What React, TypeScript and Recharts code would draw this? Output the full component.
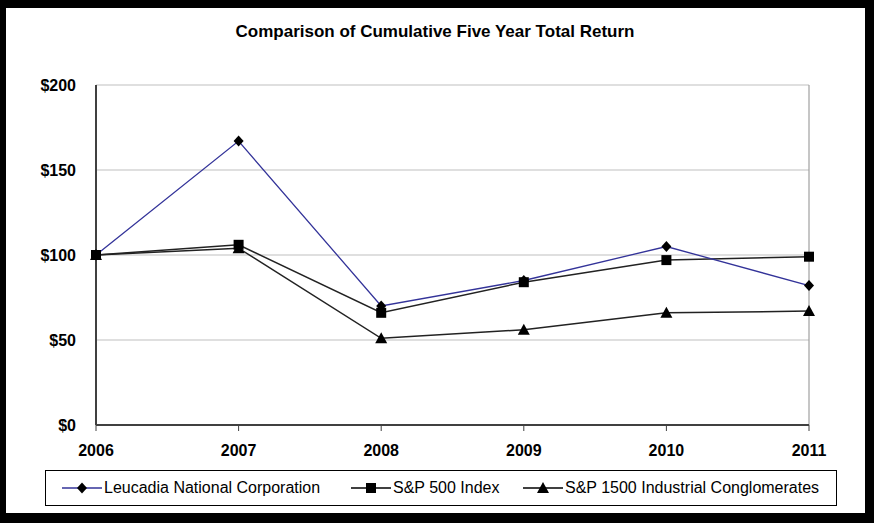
import React from 'react'
import { LineChart, Line, XAxis, YAxis, CartesianGrid, ReferenceLine } from 'recharts'

const years = ['2006', '2007', '2008', '2009', '2010', '2011']
const leucadia = [100, 167, 70, 85, 105, 82]
const sp500 = [100, 106, 66, 84, 97, 99]
const sp1500 = [100, 104, 51, 56, 66, 67]
const yTicks = [0, 50, 100, 150, 200]

const seriesNames = ['Leucadia National Corporation', 'S&P 500 Index', 'S&P 1500 Industrial Conglomerates']

const data = years.map((y, i) => ({
  year: y,
  leucadia: leucadia[i],
  sp500: sp500[i],
  sp1500: sp1500[i]
}))

const FONT = '"Liberation Sans", Arial, sans-serif'

type Shape = 'diamond' | 'square' | 'triangle'

function Marker({ cx, cy, shape }: { cx: number; cy: number; shape: Shape }) {
  if (shape === 'diamond') {
    return <polygon points={`${cx},${cy - 5.5} ${cx + 5},${cy} ${cx},${cy + 5.5} ${cx - 5},${cy}`} fill="#000" />
  }
  if (shape === 'square') {
    return <rect x={cx - 5} y={cy - 5} width={10} height={10} fill="#000" />
  }
  return <polygon points={`${cx},${cy - 6} ${cx + 6},${cy + 5} ${cx - 6},${cy + 5}`} fill="#000" />
}

const dotFor = (shape: Shape) => (props: any) => {
  const { cx, cy, index } = props
  if (cx == null || cy == null) return <g key={`${shape}-${index}`} />
  return <Marker key={`${shape}-${index}`} cx={cx} cy={cy} shape={shape} />
}

const legendItems: { name: string; color: string; shape: Shape; width: number }[] = [
  { name: seriesNames[0], color: '#333399', shape: 'diamond', width: 289 },
  { name: seriesNames[1], color: '#000', shape: 'square', width: 172 },
  { name: seriesNames[2], color: '#000', shape: 'triangle', width: 300 }
]

function LegendBox() {
  return (
    <div
      style={{
        boxSizing: 'border-box',
        width: 792,
        height: 36,
        border: '1px solid #000',
        display: 'flex',
        alignItems: 'center',
        paddingLeft: 16,
        fontFamily: FONT,
        fontSize: 16,
        color: '#000',
        background: '#fff'
      }}
    >
      {legendItems.map((it) => (
        <div key={it.name} style={{ display: 'flex', alignItems: 'center', width: it.width }}>
          <svg width={40} height={14} style={{ marginRight: 2 }}>
            <line x1={0} y1={7} x2={40} y2={7} stroke={it.color} strokeWidth={1.5} />
            <Marker cx={20} cy={7} shape={it.shape} />
          </svg>
          <span style={{ whiteSpace: 'nowrap' }}>{it.name}</span>
        </div>
      ))}
    </div>
  )
}

export default function App() {
  return (
    <div style={{ position: 'fixed', left: 0, top: 0, width: 874, height: 523, background: '#000' }}>
      <div style={{ position: 'absolute', left: 6, top: 8, width: 859, height: 505, background: '#fff' }} />
      <div
        style={{
          position: 'absolute',
          left: 0,
          top: 22,
          width: 870,
          textAlign: 'center',
          fontFamily: FONT,
          fontWeight: 'bold',
          fontSize: 17,
          color: '#000'
        }}
      >
        Comparison of Cumulative Five Year Total Return
      </div>
      <div style={{ position: 'absolute', left: 0, top: 0 }}>
        <LineChart width={874} height={523} data={data} margin={{ top: 85, right: 65, bottom: 68, left: 0 }}>
          <CartesianGrid vertical={false} stroke="#c0c0c0" strokeWidth={1.2} />
          <ReferenceLine x="2011" stroke="#a0a0a0" strokeWidth={1.2} />
          <XAxis
            dataKey="year"
            height={30}
            tickLine={{ stroke: '#404040' }}
            tickSize={6}
            tickMargin={14}
            axisLine={{ stroke: '#404040', strokeWidth: 2 }}
            tick={{ fill: '#000', fontFamily: FONT, fontWeight: 'bold', fontSize: 16 }}
            interval={0}
          />
          <YAxis
            width={96}
            domain={[0, 200]}
            ticks={yTicks}
            tickFormatter={(v: number) => `$${v}`}
            tickLine={false}
            tickMargin={14}
            axisLine={{ stroke: '#404040', strokeWidth: 2 }}
            tick={{ fill: '#000', fontFamily: FONT, fontWeight: 'bold', fontSize: 16 }}
          />
          <Line
            dataKey="sp1500"
            name={seriesNames[2]}
            stroke="#222"
            strokeWidth={1.5}
            dot={dotFor('triangle')}
            activeDot={false}
            isAnimationActive={false}
          />
          <Line
            dataKey="sp500"
            name={seriesNames[1]}
            stroke="#222"
            strokeWidth={1.5}
            dot={dotFor('square')}
            activeDot={false}
            isAnimationActive={false}
          />
          <Line
            dataKey="leucadia"
            name={seriesNames[0]}
            stroke="#333399"
            strokeWidth={1.3}
            dot={dotFor('diamond')}
            activeDot={false}
            isAnimationActive={false}
          />
        </LineChart>
      </div>
      <div style={{ position: 'absolute', left: 45, top: 470 }}>
        <LegendBox />
      </div>
    </div>
  )
}
